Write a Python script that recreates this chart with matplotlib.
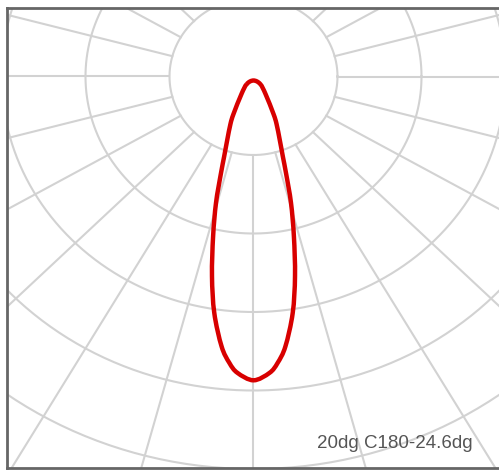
import numpy as np
import matplotlib
matplotlib.use("Agg")
import matplotlib.pyplot as plt
from matplotlib.path import Path
from matplotlib.patches import PathPatch

# intensity curve (angle from nadir in degrees, radius in grid rings)
theta_deg = [0, 2.9, 4.5, 6.3, 8.8, 11.0, 13.3, 15.5, 17.4, 18.9, 21.1, 24.4, 26.5, 32.7, 39.9]
intensity = [3.87, 3.78, 3.66, 3.46, 3.05, 2.59, 2.09, 1.67, 1.30, 1.08, 0.87, 0.664, 0.534, 0.265, 0.125]
tip_depth = 0.051  # top of the lobe sits just below the centre

ring_radii = [1, 2, 3, 4, 5, 6]
spoke_angles = np.arange(0, 360, 15)
label = "20dg C180-24.6dg"


def closed_smooth_path(pts):
    # closed catmull-rom through the points, as cubic bezier pieces
    pts = np.asarray(pts)
    n = len(pts)
    verts = [pts[0]]
    codes = [Path.MOVETO]
    for i in range(n):
        p0 = pts[(i - 1) % n]
        p1 = pts[i]
        p2 = pts[(i + 1) % n]
        p3 = pts[(i + 2) % n]
        verts += [p1 + (p2 - p0) / 6, p2 - (p3 - p1) / 6, p2]
        codes += [Path.CURVE4] * 3
    return Path(verts, codes)


fig = plt.figure(figsize=(4.99, 4.70), dpi=100)
ax = fig.add_axes([7 / 499, 2 / 470, 492 / 499, 460 / 470])

grid_col = "#d2d2d2"
t = np.linspace(0, 2 * np.pi, 400)
for r in ring_radii:
    ax.plot(r * np.cos(t), r * np.sin(t), color=grid_col, lw=1.5, zorder=1)

for a in spoke_angles:
    ar = np.radians(a)
    ax.plot([np.sin(ar) * 1, np.sin(ar) * 7], [-np.cos(ar) * 1, -np.cos(ar) * 7],
            color=grid_col, lw=1.5, zorder=1)

# mirror the curve for both halves, closed through the tip
th = np.radians(np.array(theta_deg))
r = np.array(intensity)
xs = np.concatenate([-(r * np.sin(th))[::-1], (r * np.sin(th))[1:], [0]])
ys = np.concatenate([-(r * np.cos(th))[::-1], -(r * np.cos(th))[1:], [-tip_depth]])
pts = np.column_stack([xs, ys])
ax.add_patch(PathPatch(closed_smooth_path(pts), fill=False, edgecolor="#d80000", lw=3.2,
                       joinstyle="round", zorder=3))

ax.set_xlim((7 - 253.5) / 84, (499 - 253.5) / 84)
ax.set_ylim(-(468 - 76.5) / 78.5, (76.5 - 8) / 78.5)
ax.set_xticks([])
ax.set_yticks([])
for side in ["left", "top", "bottom"]:
    ax.spines[side].set_color("#666666")
    ax.spines[side].set_linewidth(2)
ax.spines["right"].set_visible(False)

fig.text(317 / 499, (470 - 448) / 470, label, fontsize=13.5, color="#555555",
         family=["Liberation Sans", "DejaVu Sans"], ha="left", va="baseline")

fig.savefig("out.png", dpi=100)
